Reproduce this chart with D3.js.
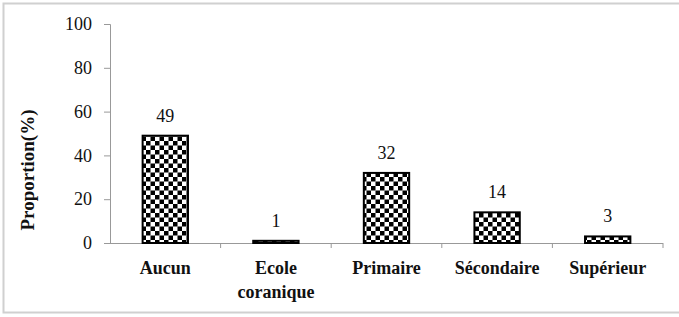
<!DOCTYPE html>
<html>
<head>
<meta charset="utf-8">
<script src="https://cdn.jsdelivr.net/npm/d3@7"></script>
<style>
  body { margin: 0; background: #fff; }
</style>
</head>
<body>
<svg id="chart" width="679" height="317"></svg>
<script>
var categories = [["Aucun"], ["Ecole", "coranique"], ["Primaire"], ["Sécondaire"], ["Supérieur"]];
var values = [49, 1, 32, 14, 3];
var yTicks = [0, 20, 40, 60, 80, 100];

var serif = "'Times New Roman', Times, Tinos, 'Noto Serif', 'Liberation Serif', 'DejaVu Serif', serif";
var axisGrey = "#999";

var svg = d3.select("#chart"),
    margin = {top: 24, right: 16, bottom: 74, left: 110},
    width = 663 - margin.left,
    height = 243 - margin.top;

// outer frame
svg.append("rect")
  .attr("x", 3.5).attr("y", 3.5)
  .attr("width", 690).attr("height", 309)
  .attr("fill", "none").attr("stroke", "#d0d0d0").attr("stroke-width", 2);

var defs = svg.append("defs");
var pat = defs.append("pattern")
  .attr("id", "checker")
  .attr("patternUnits", "userSpaceOnUse")
  .attr("width", 9).attr("height", 9);
pat.append("rect").attr("width", 9).attr("height", 9).attr("fill", "#fff");
pat.append("rect").attr("width", 4.5).attr("height", 4.5).attr("fill", "#000");
pat.append("rect").attr("x", 4.5).attr("y", 4.5).attr("width", 4.5).attr("height", 4.5).attr("fill", "#000");

var g = svg.append("g").attr("transform", "translate(" + margin.left + "," + margin.top + ")");

var x = d3.scaleBand()
  .domain(d3.range(values.length))
  .range([0, width]);

var y = d3.scaleLinear()
  .domain([0, 100])
  .range([height, 0]);

// y axis
var ya = g.append("g")
  .call(d3.axisLeft(y).tickValues(yTicks).tickSize(6).tickSizeOuter(6).tickPadding(12));
ya.attr("font-family", null).attr("font-size", null);
ya.selectAll("line").attr("stroke", axisGrey);
ya.selectAll("text").attr("fill", "#111").style("font-family", serif).style("font-size", "18px");
ya.select(".domain").attr("stroke", axisGrey).attr("d", "M-6,0.5H0.5V" + height);

// x axis with ticks at band boundaries
var xa = g.append("g")
  .attr("transform", "translate(0," + height + ")")
  .attr("stroke", axisGrey);
xa.append("line").attr("x1", 0).attr("x2", width).attr("y1", 0.5).attr("y2", 0.5);
xa.selectAll(".bt")
  .data(d3.range(1, values.length + 1))
  .enter().append("line")
  .attr("x1", function(d) { return x.step() * d; })
  .attr("x2", function(d) { return x.step() * d; })
  .attr("y1", 0).attr("y2", 5);

var bw = x.bandwidth() * 0.41;

g.selectAll(".bar")
  .data(values)
  .enter().append("rect")
  .attr("class", "bar")
  .attr("x", function(d, i) { return x(i) + (x.bandwidth() - bw) / 2; })
  .attr("y", function(d) { return y(d); })
  .attr("width", bw)
  .attr("height", function(d) { return height - y(d); })
  .attr("fill", "url(#checker)")
  .attr("stroke", "#000")
  .attr("stroke-width", 2);

g.selectAll(".val")
  .data(values)
  .enter().append("text")
  .attr("class", "val")
  .attr("x", function(d, i) { return x(i) + x.bandwidth() / 2; })
  .attr("y", function(d) { return y(d) - 14; })
  .attr("text-anchor", "middle")
  .style("font-family", serif)
  .style("font-size", "18px")
  .attr("fill", "#111")
  .text(function(d) { return d; });

var cl = g.selectAll(".cat")
  .data(categories)
  .enter().append("text")
  .attr("class", "cat")
  .attr("text-anchor", "middle")
  .style("font-family", serif)
  .style("font-size", "18px")
  .style("font-weight", "bold")
  .attr("fill", "#111")
  .attr("transform", function(d, i) { return "translate(" + (x(i) + x.bandwidth() / 2) + "," + (height + 31) + ")"; });
cl.selectAll("tspan")
  .data(function(d) { return d; })
  .enter().append("tspan")
  .attr("x", 0)
  .attr("dy", function(d, i) { return i === 0 ? 0 : 24; })
  .text(function(d) { return d; });

svg.append("text")
  .attr("transform", "translate(34," + 170 + ") rotate(-90)")
  .attr("text-anchor", "middle")
  .style("font-family", serif)
  .style("font-size", "19px")
  .style("font-weight", "bold")
  .attr("fill", "#111")
  .text("Proportion(%)");
</script>
</body>
</html>
